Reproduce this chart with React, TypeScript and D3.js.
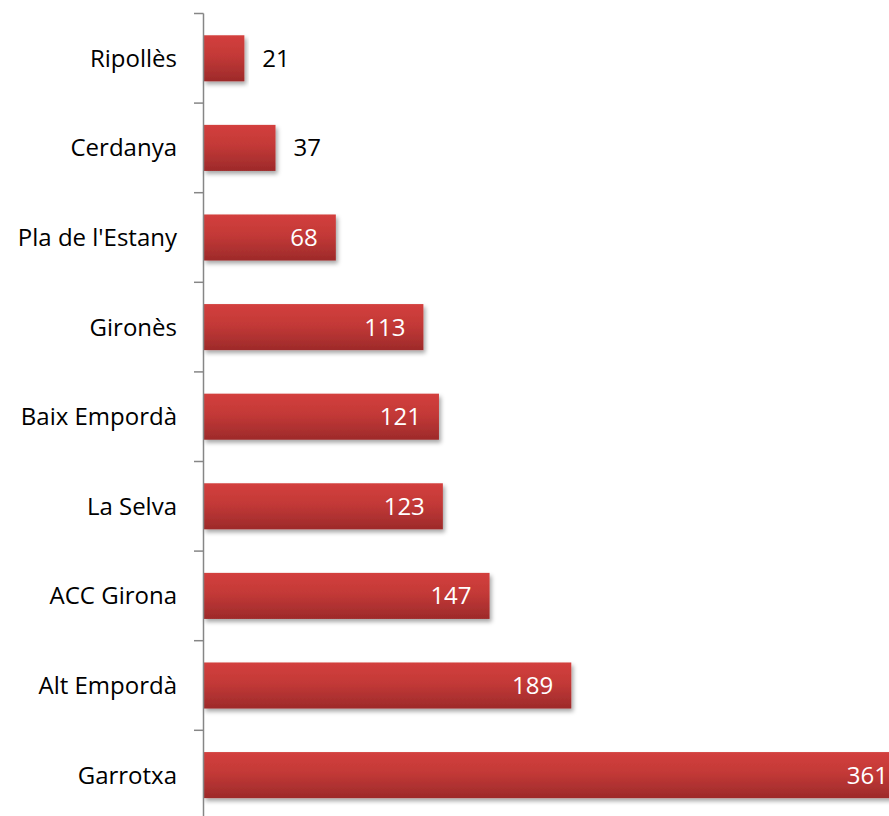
import React from "react";
import * as d3 from "d3";

const categories = ["Ripollès", "Cerdanya", "Pla de l'Estany", "Gironès", "Baix Empordà", "La Selva", "ACC Girona", "Alt Empordà", "Garrotxa"];
const values = [21, 37, 68, 113, 121, 123, 147, 189, 361];

const W = 889;
const H = 816;

export default function App() {
  const axisX = 203.5;
  const x = d3.scaleLinear().domain([0, 400]).range([axisX, axisX + 778.4]);
  const y = d3.scaleBand().domain(categories).range([13.5, 13.5 + 89.6 * categories.length]).paddingInner(0.486).paddingOuter(0.243);
  const font = "'Open Sans', Lato, sans-serif";
  const ticks = d3.range(categories.length + 1).map((i) => 13.5 + 89.6 * i);
  return (
    <svg width={W} height={H} style={{ position: "absolute", left: 0, top: 0 }} fontFamily={font}>
      <defs>
        <linearGradient id="barGrad" x1="0" y1="0" x2="0" y2="1">
          <stop offset="0" stopColor="#d33f3d" />
          <stop offset="0.45" stopColor="#c33937" />
          <stop offset="1" stopColor="#9d2a2a" />
        </linearGradient>
        <filter id="shadow" x="-5%" y="-20%" width="115%" height="160%">
          <feDropShadow dx="2" dy="3" stdDeviation="2" floodColor="#000" floodOpacity="0.35" />
        </filter>
      </defs>
      {categories.map((c, i) => {
        const v = values[i];
        const y0 = y(c)!;
        const bw = y.bandwidth();
        const x1 = x(v);
        const inside = x1 - x(0) > 100;
        return (
          <g key={c}>
            <rect x={x(0)} y={y0} width={x1 - x(0)} height={bw} fill="url(#barGrad)" filter="url(#shadow)" />
            <text x={177} y={y0 + bw / 2} dy="0.35em" textAnchor="end" fontSize={24} fill="#000">{c}</text>
            <text
              x={inside ? x1 - 18 : x1 + 18}
              y={y0 + bw / 2}
              dy="0.35em"
              textAnchor={inside ? "end" : "start"}
              fontSize={24}
              fill={inside ? "#fff" : "#000"}
            >{v}</text>
          </g>
        );
      })}
      <line x1={axisX} x2={axisX} y1={13.5} y2={H} stroke="#868686" strokeWidth={1.5} />
      {ticks.map((t, i) => (
        <line key={i} x1={194} x2={axisX} y1={t} y2={t} stroke="#868686" strokeWidth={1.5} />
      ))}
    </svg>
  );
}
